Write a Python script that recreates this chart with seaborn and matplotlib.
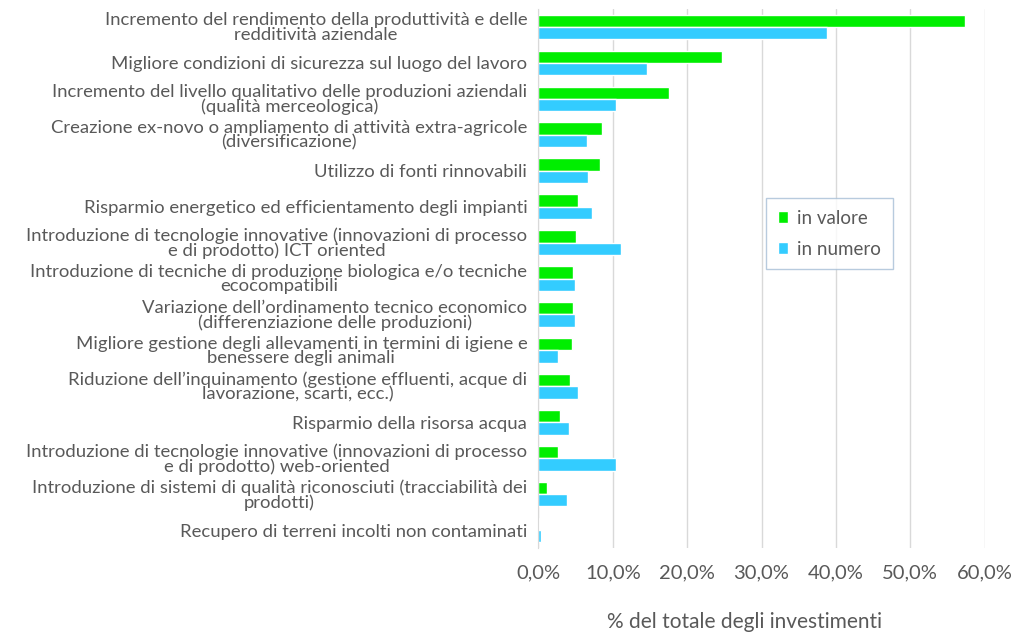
import pandas as pd
import matplotlib
matplotlib.use("Agg")
import matplotlib.pyplot as plt
import seaborn as sns

# data (% of total investments)

categories = [
    "Incremento del rendimento della produttività e delle\nredditività aziendale",
    "Migliore condizioni di sicurezza sul luogo del lavoro",
    "Incremento del livello qualitativo delle produzioni aziendali\n(qualità merceologica)",
    "Creazione ex-novo o ampliamento di attività extra-agricole\n(diversificazione)",
    "Utilizzo di fonti rinnovabili",
    "Risparmio energetico ed efficientamento degli impianti",
    "Introduzione di tecnologie innovative (innovazioni di processo\ne di prodotto) ICT oriented",
    "Introduzione di tecniche di produzione biologica e/o tecniche\necocompatibili",
    "Variazione dell\u2019ordinamento tecnico economico\n(differenziazione delle produzioni)",
    "Migliore gestione degli allevamenti in termini di igiene e\nbenessere degli animali",
    "Riduzione dell\u2019inquinamento (gestione effluenti, acque di\nlavorazione, scarti, ecc.)",
    "Risparmio della risorsa acqua",
    "Introduzione di tecnologie innovative (innovazioni di processo\ne di prodotto) web-oriented",
    "Introduzione di sistemi di qualità riconosciuti (tracciabilità dei\nprodotti)",
    "Recupero di terreni incolti non contaminati",
]
in_valore = [57.3, 24.7, 17.6, 8.5, 8.3, 5.3, 5.1, 4.7, 4.6, 4.5, 4.3, 2.9, 2.7, 1.2, 0.1]
in_numero = [38.8, 14.6, 10.5, 6.6, 6.7, 7.2, 11.1, 4.9, 4.9, 2.7, 5.3, 4.1, 10.4, 3.8, 0.4]

df = pd.DataFrame({
    "categoria": categories * 2,
    "valore": in_valore + in_numero,
    "serie": ["in valore"] * len(categories) + ["in numero"] * len(categories),
})

sns.set_style("white")
plt.rcParams["font.family"] = ["Lato", "DejaVu Sans"]
grey = "#595959"

fig = plt.figure(figsize=(10.12, 6.33), dpi=100)
ax = fig.add_axes([0.532, 0.134, 0.441, 0.852])

sns.barplot(data=df, y="categoria", x="valore", hue="serie",
            hue_order=["in valore", "in numero"],
            palette=["#00ee00", "#33ccff"], width=0.68,
            orient="h", saturation=1, ax=ax)

ax.set_xlim(0, 60)
ax.set_xticks(range(0, 61, 10))
ax.set_xticklabels([f"{v},0%" for v in range(0, 61, 10)], color=grey, fontsize=14.5)
ax.xaxis.grid(True, color="#d9d9d9", linewidth=1)
ax.set_axisbelow(True)
for s in ["top", "right", "bottom"]:
    ax.spines[s].set_visible(False)
ax.spines["left"].set_color("#d9d9d9")
ax.tick_params(axis="both", length=0)
ax.tick_params(axis="x", pad=12)
ax.tick_params(axis="y", pad=8)
for lbl in ax.get_yticklabels():
    lbl.set_multialignment("center")
    lbl.set_color(grey)
    lbl.set_fontsize(13.3)
    lbl.set_linespacing(0.88)
ax.set_ylabel("")
ax.set_xlabel("% del totale degli investimenti", color=grey, fontsize=15)
ax.xaxis.set_label_coords(0.461, -0.118)

leg = ax.legend(loc="upper left", bbox_to_anchor=(0.49, 0.666), frameon=True,
                fontsize=13.5, handlelength=0.55, handleheight=0.55, handletextpad=0.5,
                labelspacing=0.75, borderpad=0.6, fancybox=False)
leg.get_frame().set_edgecolor("#a6bed6")
for t in leg.get_texts():
    t.set_color(grey)

fig.savefig("out.png", dpi=100)
